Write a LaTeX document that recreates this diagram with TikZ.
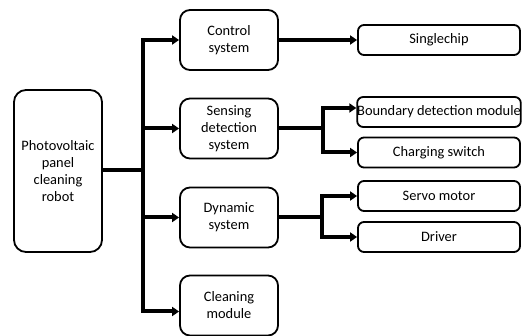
\documentclass[tikz,border=0pt]{standalone}
\usepackage{fontspec}
\setmainfont{Carlito}
\usetikzlibrary{arrows.meta}

\begin{document}
\begin{tikzpicture}[
    x=1pt, y=-1pt,
    font=\fontsize{14.4}{17}\selectfont,
    rootbox/.style={rectangle, rounded corners=12pt, draw=black, line width=1.8pt, text width=86pt, align=center, minimum width=88pt, minimum height=162pt, inner sep=0pt},
    box/.style={rectangle, rounded corners=10pt, draw=black, line width=1.8pt, text width=96pt, align=center, minimum width=98pt, minimum height=60pt, inner sep=0pt},
    leafbox/.style={rectangle, rounded corners=6pt, draw=black, line width=1.8pt, align=center, minimum width=162pt, minimum height=30pt, inner sep=0pt},
    link/.style={line width=4pt},
    arrow/.style={line width=4pt, -{Triangle[length=7pt,width=9pt]}}
]
\useasboundingbox (0,0) rectangle (522,336);

% Nodes
\node (robot) [rootbox] at (58,171) {Photovoltaic\\panel\\cleaning\\robot};

\node (control) [box] at (229,40) {Control\\system};
\node (sensing) [box] at (229,128.5) {Sensing\\detection\\system};
\node (dynamic) [box] at (229,217.5) {Dynamic\\system};
\node (cleaning) [box] at (229,305.5) {Cleaning\\module};

\node (chip) [leafbox] at (439,40) {Singlechip};
\node (boundary) [leafbox] at (439,112) {Boundary detection module};
\node (charging) [leafbox] at (439,152.5) {Charging switch};
\node (servo) [leafbox] at (439,196) {Servo motor};
\node (driver) [leafbox] at (439,237) {Driver};

% Arrows
\coordinate (trunk) at (143,170);
\draw [link] (robot.east |- trunk) -- (trunk);
\draw [arrow] (trunk) |- (control);
\draw [arrow] (trunk) |- (sensing);
\draw [arrow] (trunk) |- (dynamic);
\draw [arrow] (trunk) |- ([yshift=-6pt]cleaning.west);

\draw [arrow] (control) -- (chip);

\draw [link] (sensing.east) -- ++(44,0) coordinate (fork1);
\draw [arrow] (fork1) |- ([yshift=4pt]boundary.west);
\draw [arrow] (fork1) |- (charging);

\draw [link] (dynamic.east) -- ++(43,0) coordinate (fork2);
\draw [arrow] (fork2) |- (servo);
\draw [arrow] (fork2) |- (driver);

\end{tikzpicture}
\end{document}
